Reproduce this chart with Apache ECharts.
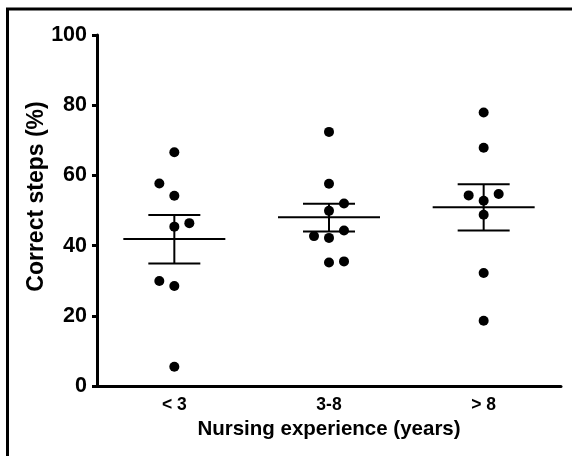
<!DOCTYPE html>
<html>
<head>
<meta charset="utf-8">
<script src="https://cdn.jsdelivr.net/npm/echarts@6/dist/echarts.min.js"></script>
<style>
html, body { margin: 0; padding: 0; background: #fff; }
#chart { width: 572px; height: 456px; }
</style>
</head>
<body>
<div id="chart"></div>
<script>
// ---- data ----
const categories = ['< 3', '3-8', '> 8'];
const groupLessThan3 = [66.6, 57.7, 54.2, 46.4, 45.4, 29.9, 28.5, 5.5];
const group3to8 = [72.4, 57.6, 52.0, 49.9, 44.3, 42.7, 42.2, 35.5, 35.2];
const groupMoreThan8 = [77.9, 67.9, 54.7, 54.3, 52.8, 48.8, 32.2, 18.6];
const means = [41.9, 48.1, 50.9];
const semUpper = [48.7, 51.9, 57.5];
const semLower = [34.9, 44.0, 44.3];
const yMin = 0, yMax = 100, yStep = 20;
const xTitle = 'Nursing experience (years)';
const yTitle = 'Correct steps (%)';

// ---- simple beeswarm slot assignment (points too close vertically are spread sideways) ----
const groups = [groupLessThan3, group3to8, groupMoreThan8];
const CLUSTER_GAP = 3.8;  // in y units
let side = -1;
const pointData = [];
groups.forEach(function (vals, gi) {
  const sorted = vals.slice().sort(function (a, b) { return a - b; });
  let i = 0;
  while (i < sorted.length) {
    let j = i;
    while (j + 1 < sorted.length && sorted[j + 1] - sorted[j] < CLUSTER_GAP) j++;
    const cluster = sorted.slice(i, j + 1);
    if (cluster.length === 1) {
      pointData.push({ value: [gi, cluster[0]], slot: 0 });
    } else {
      cluster.forEach(function (v, k) {
        let slot = 0;
        if (k > 0) {
          const ring = Math.ceil(k / 2);
          slot = (k % 2 === 1 ? side : -side) * ring;
        }
        pointData.push({ value: [gi, v], slot: slot });
      });
      side = -side;
    }
    i = j + 1;
  }
});

const JITTER_PX = 15;
const scatterData = pointData.map(function (p) {
  return { value: p.value, symbolOffset: [p.slot * JITTER_PX, 0] };
});
const summaryData = categories.map(function (c, i) {
  return [i, means[i], semLower[i], semUpper[i]];
});

const FONT = 'Liberation Sans, Arial, Helvetica, sans-serif';
const chart = echarts.init(document.getElementById('chart'), null, { renderer: 'canvas' });
chart.setOption({
  animation: false,
  backgroundColor: '#ffffff',
  grid: { left: 97, right: 11, top: 35, bottom: 70, containLabel: false },
  xAxis: {
    type: 'category',
    data: categories,
    boundaryGap: true,
    name: xTitle,
    nameLocation: 'middle',
    nameGap: 33,
    nameTextStyle: { fontFamily: FONT, fontWeight: 'bold', fontSize: 20.5, color: '#000' },
    axisLine: { lineStyle: { color: '#000', width: 3 } },
    axisTick: { alignWithLabel: true, length: 5, lineStyle: { color: '#000', width: 3 } },
    axisLabel: { fontFamily: FONT, fontWeight: 'bold', fontSize: 17.5, color: '#000', margin: 10 },
    splitLine: { show: false }
  },
  yAxis: {
    type: 'value',
    min: yMin, max: yMax, interval: yStep,
    name: yTitle,
    nameLocation: 'middle',
    nameGap: 49,
    nameMoveOverlap: false,
    nameTextStyle: { fontFamily: FONT, fontWeight: 'bold', fontSize: 23, color: '#000', padding: [0, 0, 0, 28] },
    axisLine: { show: true, lineStyle: { color: '#000', width: 3 } },
    axisTick: { show: true, length: 5, lineStyle: { color: '#000', width: 3 } },
    axisLabel: { fontFamily: FONT, fontWeight: 'bold', fontSize: 21.5, color: '#000', margin: 10 },
    splitLine: { show: false }
  },
  graphic: [{
    type: 'polyline',
    shape: { points: [[7.5, 460], [7.5, 9], [575, 9]] },
    style: { stroke: '#000', lineWidth: 3, fill: null },
    silent: true
  }],
  series: [
    {
      type: 'custom',
      data: summaryData,
      encode: { x: 0, y: 1 },
      z: 2,
      renderItem: function (params, api) {
        const c = api.coord([api.value(0), api.value(1)]);
        const lo = api.coord([api.value(0), api.value(2)]);
        const hi = api.coord([api.value(0), api.value(3)]);
        const st = { stroke: '#000', lineWidth: 2 };
        return {
          type: 'group',
          children: [
            { type: 'line', shape: { x1: c[0] - 51, y1: c[1], x2: c[0] + 51, y2: c[1] }, style: st },
            { type: 'line', shape: { x1: c[0], y1: lo[1], x2: c[0], y2: hi[1] }, style: st },
            { type: 'line', shape: { x1: c[0] - 26, y1: lo[1], x2: c[0] + 26, y2: lo[1] }, style: st },
            { type: 'line', shape: { x1: c[0] - 26, y1: hi[1], x2: c[0] + 26, y2: hi[1] }, style: st }
          ]
        };
      }
    },
    {
      type: 'scatter',
      data: scatterData,
      symbol: 'circle',
      symbolSize: 10,
      z: 3,
      itemStyle: { color: '#000', opacity: 1 }
    }
  ]
});
</script>
</body>
</html>
